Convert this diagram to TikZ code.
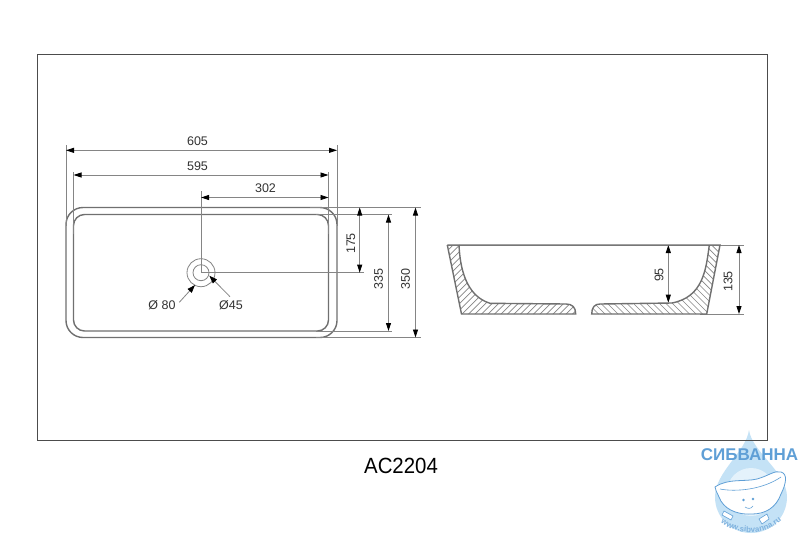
\documentclass[tikz,border=0pt]{standalone}
\usepackage{fontspec}
\setmainfont{Liberation Sans}
\usetikzlibrary{arrows.meta,decorations.text}
\definecolor{dimgrey}{HTML}{858585}
\definecolor{bodygrey}{HTML}{707070}
\definecolor{labelgrey}{HTML}{333333}
\definecolor{dropblue}{HTML}{C4E2F6}
\definecolor{logoblue}{HTML}{5F9FD6}
\tikzset{
	dimline/.style={draw=dimgrey, line width=0.8pt},
	dimarrow/.style={dimline, {Triangle[length=8pt,width=5pt,black]}-{Triangle[length=8pt,width=5pt,black]}},
	leader/.style={dimline, -{Triangle[length=8pt,width=5.5pt,black]}},
	bodyline/.style={draw=bodygrey, line width=1.4pt},
	hatchline/.style={draw=dimgrey, line width=0.7pt},
	dimtext/.style={font=\fontsize{12.5}{14}\selectfont, text=labelgrey, inner sep=0pt},
}

\begin{document}
\begin{tikzpicture}[x=1pt,y=-1pt]
	\useasboundingbox (0,0) rectangle (800,533);
	\fill[white] (0,0) rectangle (800,533);

	% Logo
	\fill[dropblue] (749,430) .. controls (746,452) and (715,472) .. (715,497) .. controls (715,517) and (731,533) .. (751,533) .. controls (771,533) and (787,517) .. (787,497) .. controls (787,472) and (752,452) .. (749,430) -- cycle;
	\fill[white!55!dropblue] (751,492) circle[radius=24pt];
	\filldraw[draw=logoblue, fill=white, line width=0.8pt] (715,487) .. controls (728,478) and (745,482) .. (757,479) .. controls (768,476) and (775,470) .. (781,472) .. controls (788,474) and (786,484) .. (781,494) .. controls (776,508) and (765,514) .. (752,514) .. controls (735,515) and (723,508) .. (719,497) .. controls (717,492) and (715,490) .. (715,487) -- cycle;
	\draw[logoblue, line width=0.6pt] (720,489) .. controls (735,492) and (762,490) .. (781,477);
	\fill[logoblue] (743.5,500) circle[radius=1.4pt] (753,499) circle[radius=1.4pt];
	\draw[logoblue, line width=0.6pt] (745,507) .. controls (748,509) and (751,509) .. (753,506);
	\filldraw[draw=logoblue, fill=white, line width=0.6pt] (724,511) -- (733,516) -- (731,520) -- (722,515) -- cycle;
	\filldraw[draw=logoblue, fill=white, line width=0.6pt] (759,519) -- (767,514) -- (769,519) -- (762,524) -- cycle;
	\path[postaction={decorate, decoration={text along path, text align=center, text color=logoblue!80, text={|\fontsize{8}{9}\selectfont\bfseries|www.sibvanna.ru}}}] (717,519) .. controls (733,537) and (769,537) .. (785,517);
	\node (logotext) [text=logoblue, font=\fontsize{17}{19}\bfseries\selectfont, inner sep=0pt] at (749.5,455) {СИБВАННА};

	% Frame and title
	\draw[draw=black!70, line width=0.9pt] (37,54) rectangle (767.5,440);
	\node (title) [inner sep=0pt, text=black, font=\fontsize{20}{22}\selectfont, xscale=1.02, yscale=1.1] at (401,465.5) {AC2204};

	% Top view
	\draw[bodyline, rounded corners=17pt] (66,207.5) rectangle (337,337.5);
	\draw[bodyline, rounded corners=11pt] (73.5,214.5) rectangle (328.5,331);
	\coordinate (hole) at (201,272.7);
	\draw[dimline] (hole) circle[radius=14pt];
	\draw[dimline] (hole) circle[radius=8pt];

	% Extension lines
	\draw[dimline] (66,145) -- (66,226);
	\draw[dimline] (337,145) -- (337,226);
	\draw[dimline] (73.5,172) -- (73.5,234);
	\draw[dimline] (328.5,172) -- (328.5,234);
	\draw[dimline] (201,191) -- (hole);
	\draw[dimline] (hole) -- (364,272.7);
	\draw[dimline] (310,207.5) -- (421,207.5);
	\draw[dimline] (316,214.5) -- (392,214.5);
	\draw[dimline] (316,331) -- (392,331);
	\draw[dimline] (316,337.5) -- (421,337.5);
	\draw[dimline] (447,245) -- (744,245);
	\draw[dimline] (700,314) -- (744,314);

	% Dimension arrows
	\draw[dimarrow] (66,150.3) -- (337,150.3);
	\draw[dimarrow] (73.5,175) -- (328.5,175);
	\draw[dimarrow] (201,197.5) -- (328.5,197.5);
	\draw[dimarrow] (359.7,207.5) -- (359.7,272.7);
	\draw[dimarrow] (388.5,214.5) -- (388.5,331);
	\draw[dimarrow] (415.5,207.5) -- (415.5,337.5);
	\draw[dimarrow] (668.3,245) -- (668.3,302.7);
	\draw[dimarrow] (739,245) -- (739,314);
	\draw[leader] (179.3,302.3) -- (195,285);
	\draw[leader] (230,296.7) -- (209.3,275.7);

	% Labels
	\node (w605) [dimtext] at (197.5,141.5) {605};
	\node (w595) [dimtext] at (197.5,166) {595};
	\node (w302) [dimtext] at (265.5,188) {302};
	\node (h175) [dimtext, rotate=90] at (351,243.5) {175};
	\node (h335) [dimtext, rotate=90] at (378.5,279) {335};
	\node (h350) [dimtext, rotate=90] at (405.5,279) {350};
	\node (d80) [dimtext] at (162,305) {Ø 80};
	\node (d45) [dimtext] at (231,305) {Ø45};
	\node (s95) [dimtext, rotate=90] at (659,275) {95};
	\node (s135) [dimtext, rotate=90] at (728,281.5) {135};

	% Section
	\begin{scope}
		\clip (447.3,245) -- (459,245) .. controls (460,268) and (466,296) .. (490,303.3) -- (566,304) .. controls (572,304) and (575.7,307) .. (575.7,314) -- (461.5,314) -- cycle;
		\foreach \x in {360,366.5,...,580}
			\draw[hatchline] (\x,325) -- ++(90,-90);
	\end{scope}
	\begin{scope}
		\clip (720,245) -- (709.3,245) .. controls (706,270) and (703,297) .. (672,303) -- (600,304) .. controls (595,304) and (591.7,307) .. (591.7,314) -- (706.7,314) -- cycle;
		\foreach \x in {500,506.5,...,720}
			\draw[hatchline] (\x,235) -- ++(90,90);
	\end{scope}
	\draw[bodyline] (447.3,245) -- (720,245) -- (706.7,314) -- (591.7,314) .. controls (591.7,307) and (595,304) .. (600,304) -- (672,303) .. controls (703,297) and (706,270) .. (709.3,245);
	\draw[bodyline] (447.3,245) -- (461.5,314) -- (575.7,314) .. controls (575.7,307) and (572,304) .. (566,304) -- (490,303.3) .. controls (466,296) and (460,268) .. (459,245);
\end{tikzpicture}
\end{document}
